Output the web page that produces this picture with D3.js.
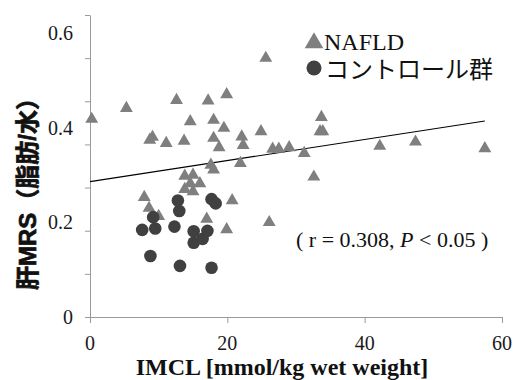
<!DOCTYPE html>
<html><head><meta charset="utf-8">
<script src="https://cdn.jsdelivr.net/npm/d3@7"></script>
<style>body{margin:0;background:#fff}svg{display:block}
.serif{font-family:"Liberation Serif","Times New Roman",serif}
.cjk{font-family:"Noto Sans CJK JP",sans-serif}
.ytitle{font-family:"Liberation Sans","Noto Sans CJK JP",sans-serif}
</style>
</head><body>
<svg id="c" width="515" height="380"></svg>
<script>
// ---- data ----
const xTickLabels = [0, 20, 40, 60];
const yTickLabels = [0, 0.2, 0.4, 0.6];
const nafldX = [0.25,5.3,12.6,17.2,19.9,14.6,18.0,19.5,9.1,8.7,11.1,13.7,18.0,18.8,25.6,22.1,24.9,33.7,33.5,33.9,22.3,26.6,27.5,29.0,31.2,21.9,32.6,20.7,19.9,26.1,42.2,47.4,57.5,17.6,18.0,13.8,15.0,14.6,16.0,13.8,15.0,7.9,8.6,10.0,17.0];
const nafldY = [0.418,0.441,0.458,0.457,0.470,0.413,0.416,0.399,0.380,0.374,0.367,0.372,0.378,0.358,0.547,0.381,0.392,0.422,0.392,0.392,0.363,0.355,0.355,0.358,0.346,0.325,0.296,0.246,0.185,0.200,0.361,0.370,0.356,0.321,0.311,0.298,0.300,0.282,0.282,0.270,0.265,0.253,0.230,0.213,0.207];
const ctrlX = [12.8,13.0,17.7,18.3,9.2,7.6,9.5,12.3,15.1,17.1,16.4,15.1,8.8,13.1,17.7];
const ctrlY = [0.246,0.224,0.249,0.240,0.211,0.184,0.187,0.191,0.181,0.182,0.165,0.157,0.129,0.108,0.104];
const fitX = [0, 57.5];
const fitY = [0.286, 0.414];
const legendLabels = ["NAFLD", "コントロール群"];

const svg = d3.select("#c");
const x = d3.scaleLinear().domain([0, 60]).range([90, 502]);
const y = d3.scaleLinear().domain([0, 0.6]).range([317, 33]);
// minor tick grid of the vertical axis (7 equal divisions up to the axis top)
const yTick = d3.scaleLinear().domain([0, 7]).range([317, 15]);
const axisCol = "#9a9a9a";

// x axis
const gx = svg.append("g").attr("transform", "translate(0,317)")
  .call(d3.axisBottom(x).tickValues(xTickLabels).tickSize(6).tickSizeOuter(0).tickFormat(""));
gx.select(".domain").attr("stroke", axisCol);
gx.selectAll(".tick line").attr("stroke", axisCol);
svg.append("g").selectAll("text").data(xTickLabels).join("text")
  .attr("class", "serif")
  .attr("x", d => x(d)).attr("y", 350).attr("text-anchor", "middle")
  .attr("font-size", 20).attr("fill", "#1a1a1a")
  .text(d => d);

// y axis
const gy = svg.append("g").attr("transform", "translate(90,0)")
  .call(d3.axisLeft(yTick).tickValues(d3.range(0, 8)).tickSize(5).tickSizeOuter(0).tickFormat(""));
gy.select(".domain").attr("stroke", axisCol);
gy.selectAll(".tick line").attr("stroke", axisCol);
svg.append("g").selectAll("text").data(yTickLabels).join("text")
  .attr("class", "serif")
  .attr("x", 73).attr("y", d => y(d) + 7).attr("text-anchor", "end")
  .attr("font-size", 20).attr("fill", "#1a1a1a")
  .text(d => d);

// regression line
svg.append("line")
  .attr("x1", x(fitX[0])).attr("y1", y(fitY[0]))
  .attr("x2", x(fitX[1])).attr("y2", y(fitY[1]))
  .attr("stroke", "#000").attr("stroke-width", 1.1);

// NAFLD triangles
const tri = d3.symbol().type(d3.symbolTriangle).size(72);
svg.append("g").selectAll("path").data(nafldX.map((d, i) => [d, nafldY[i]])).join("path")
  .attr("d", tri).attr("transform", d => `translate(${x(d[0])},${y(d[1])})`)
  .attr("fill", "#7f7f7f");

// control circles
svg.append("g").selectAll("circle").data(ctrlX.map((d, i) => [d, ctrlY[i]])).join("circle")
  .attr("cx", d => x(d[0])).attr("cy", d => y(d[1])).attr("r", 6.3)
  .attr("fill", "#404040");

// legend
const lg = svg.append("g");
lg.append("path").attr("d", d3.symbol().type(d3.symbolTriangle).size(150)).attr("transform", "translate(314,43)").attr("fill", "#7f7f7f");
lg.append("circle").attr("cx", 314).attr("cy", 68).attr("r", 7.5).attr("fill", "#404040");
lg.append("text").attr("class", "serif").attr("x", 324).attr("y", 50)
  .attr("font-size", 24).attr("fill", "#111").text(legendLabels[0]);
lg.append("text").attr("class", "cjk").attr("x", 325).attr("y", 78)
  .attr("font-size", 24).attr("fill", "#111").text(legendLabels[1]);

// annotation
const ann = svg.append("text").attr("class", "serif").attr("x", 296).attr("y", 247)
  .attr("font-size", 22).attr("fill", "#111");
ann.append("tspan").text("( r = 0.308, ");
ann.append("tspan").attr("font-style", "italic").text("P");
ann.append("tspan").text(" < 0.05 )");

// axis titles
svg.append("text").attr("class", "serif").attr("x", 282).attr("y", 375).attr("text-anchor", "middle")
  .attr("font-weight", "bold")
  .attr("font-size", 24).attr("fill", "#111").text("IMCL [mmol/kg wet weight]");
svg.append("text").attr("class", "ytitle").attr("transform", "translate(36,188) rotate(-90)").attr("text-anchor", "middle")
  .attr("font-weight", "bold").attr("stroke", "#111").attr("stroke-width", 0.7)
  .attr("font-size", 24).attr("fill", "#111").text("肝MRS（脂肪/水）");
</script>
</body></html>
